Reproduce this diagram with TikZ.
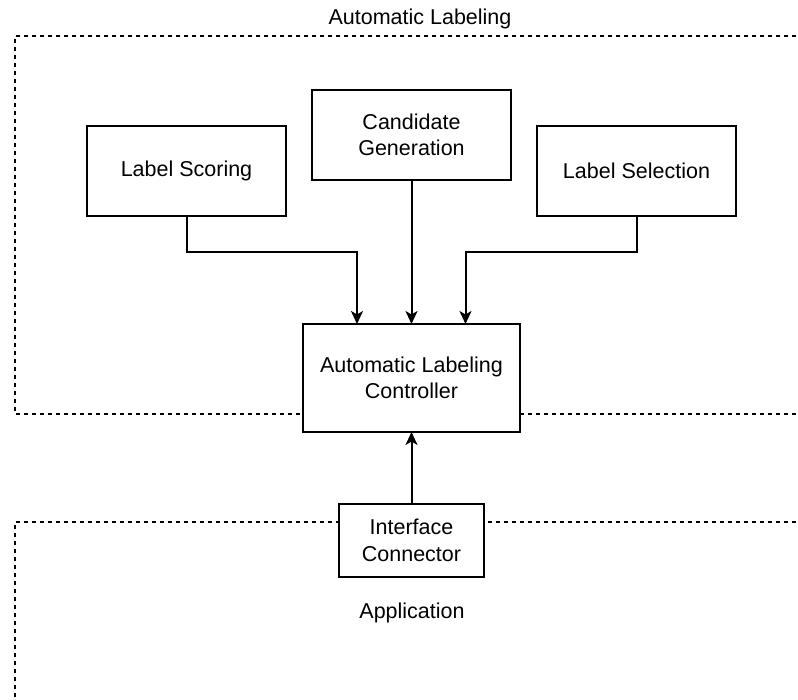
\documentclass[tikz,border=0pt]{standalone}
\usepackage{fontspec}
\setmainfont{Liberation Sans}
\usetikzlibrary{arrows.meta,positioning,calc}

\begin{document}
\begin{tikzpicture}[x=1pt,y=-1pt,>={Stealth[length=13pt,width=12pt,inset=3.5pt]},
  blk/.style={draw,line width=2pt,fill=white,align=center,inner sep=0pt,outer sep=0pt},
  zone/.style={line width=1.2pt,dash pattern=on 4pt off 4pt},
  arr/.style={->,line width=2pt},
  font=\fontsize{21.5}{26.5}\selectfont]
\useasboundingbox (0,0) rectangle (798,700);
\clip (0,0) rectangle (798,700);
% dashed zones, open on the right
\draw[zone] (820,36) -- (15,36) -- (15,414) -- (820,414);
\draw[zone] (820,522) -- (15,522) -- (15,720);
\node at (420,19) (autolbl) {Automatic Labeling};
\node at (412,613) (applbl) {Application};
% blocks
\node[blk,minimum width=199pt,minimum height=90pt] at (411.5,135) (cand) {Candidate\\Generation};
\node[blk,minimum width=199pt,minimum height=90pt] at (186.5,171) (scoring) {Label Scoring};
\node[blk,minimum width=199pt,minimum height=90pt] at (636.5,171) (select) {Label Selection};
\node[blk,minimum width=217pt,minimum height=108pt] at (411.5,378) (ctrl) {Automatic Labeling\\Controller};
\node[blk,minimum width=145pt,minimum height=73pt] at (411.5,540.5) (iface) {Interface\\Connector};
% connectors
\draw[arr] (scoring.south) -- ++(0,36) -| ([xshift=-54.5pt]ctrl.north);
\draw[arr] (cand.south) -- (ctrl.north);
\draw[arr] (select.south) -- ++(0,36) -| ([xshift=54pt]ctrl.north);
\draw[arr] (iface.north) -- (ctrl.south);
\end{tikzpicture}
\end{document}
